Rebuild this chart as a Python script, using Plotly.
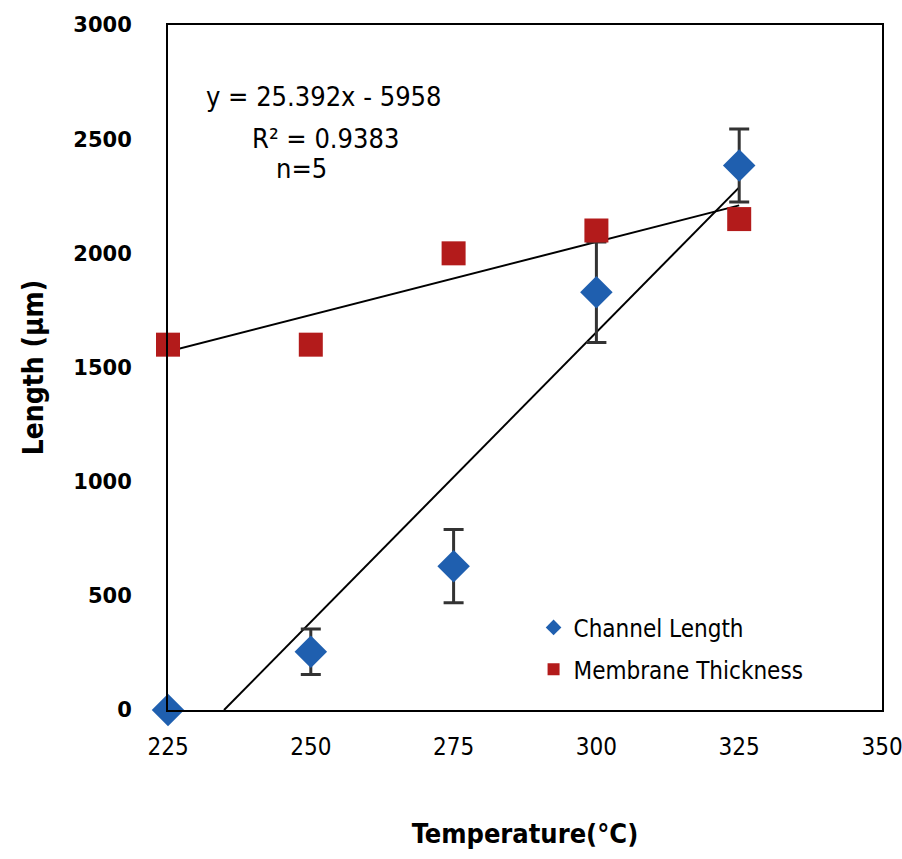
import numpy as np
import plotly.graph_objects as go

temps = [225, 250, 275, 300, 325]
channel_length = [0, 255, 630, 1830, 2385]
channel_err = [0, 100, 160, 220, 160]
membrane = [1600, 1600, 2000, 2100, 2150]
x_ticks = [225, 250, 275, 300, 325, 350]
y_ticks = [0, 500, 1000, 1500, 2000, 2500, 3000]

NARROW = "DejaVu Sans Condensed, Liberation Sans Narrow, sans-serif"

fig = go.Figure()

# trend lines
ms, mi = np.polyfit(temps, membrane, 1)
fig.add_trace(go.Scatter(x=[temps[0], temps[-1]], y=[ms * temps[0] + mi, ms * temps[-1] + mi],
                         mode="lines", line=dict(color="black", width=2), showlegend=False, hoverinfo="skip"))
cs, ci = np.polyfit(temps, channel_length, 1)
x0 = -ci / cs
fig.add_trace(go.Scatter(x=[x0, temps[-1]], y=[0, cs * temps[-1] + ci],
                         mode="lines", line=dict(color="black", width=2), showlegend=False, hoverinfo="skip"))

fig.add_trace(go.Scatter(x=temps, y=channel_length, mode="markers", name="Channel Length",
                         marker=dict(symbol="diamond", size=25, color="#1F5FAF"),
                         error_y=dict(type="data", array=channel_err, color="#333333", thickness=3, width=10),
                         cliponaxis=False, legend="legend"))
fig.add_trace(go.Scatter(x=temps, y=membrane, mode="markers", name="Membrane Thickness",
                         marker=dict(symbol="square", size=24, color="#B31B1B"),
                         cliponaxis=False, legend="legend2"))

fig.add_annotation(x=0.05, y=0.895, xref="paper", yref="paper", xanchor="left", yanchor="middle",
                   text="y = 25.392x - 5958", showarrow=False, font=dict(family=NARROW, size=27, color="black"))
fig.add_annotation(x=0.115, y=0.835, xref="paper", yref="paper", xanchor="left", yanchor="middle",
                   text="R² = 0.9383", showarrow=False, font=dict(family=NARROW, size=27, color="black"))
fig.add_annotation(x=0.149, y=0.79, xref="paper", yref="paper", xanchor="left", yanchor="middle",
                   text="n=5", showarrow=False, font=dict(family=NARROW, size=27, color="black"))

leg_common = dict(xanchor="left", yanchor="middle", bgcolor="rgba(0,0,0,0)", itemwidth=30,
                  font=dict(family=NARROW, size=24, color="black"), itemsizing="constant")
fig.update_layout(
    width=902, height=859,
    margin=dict(l=168, r=20, t=25, b=149),
    paper_bgcolor="white", plot_bgcolor="white",
    showlegend=True,
    legend=dict(x=0.512, y=0.12, **leg_common),
    legend2=dict(x=0.512, y=0.059, **leg_common),
    xaxis=dict(range=[225, 350], tickvals=x_ticks, ticks="", showgrid=False, zeroline=False,
               automargin=False,
               showline=True, linecolor="black", linewidth=2, mirror=True, ticklabeloverflow="allow",
               tickfont=dict(family=NARROW, size=24, color="black"), ticklabelstandoff=14,
               title=dict(text="<b>Temperature(°C)</b>", font=dict(family=NARROW, size=27, color="black"),
                          standoff=64)),
    yaxis=dict(range=[0, 3000], tickvals=y_ticks, ticks="", showgrid=False, zeroline=False,
               automargin=False,
               showline=True, linecolor="black", linewidth=2, mirror=True,
               tickfont=dict(family="DejaVu Sans", size=21, color="black", weight="bold"), ticklabelstandoff=30,
               title=dict(text="<b>Length (μm)</b>", font=dict(family=NARROW, size=28, color="black"),
                          standoff=22)),
)

fig.write_html("out.html")
